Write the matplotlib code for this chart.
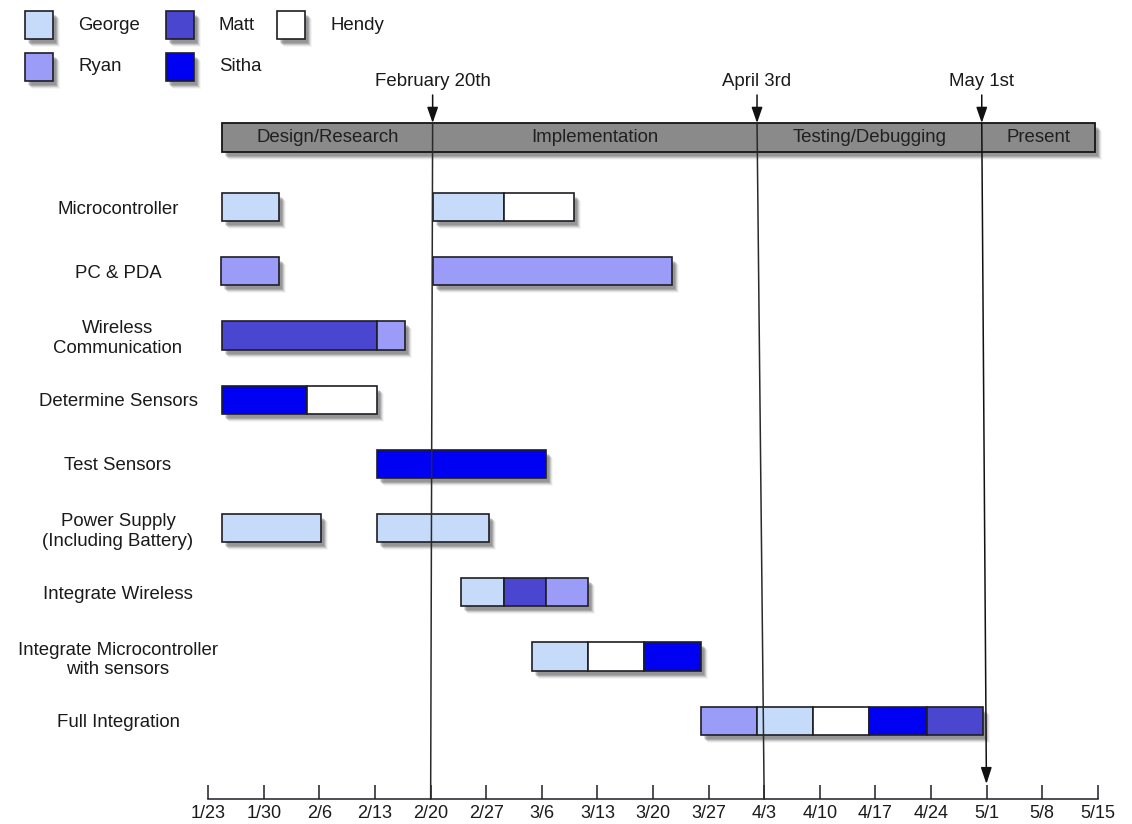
import matplotlib
matplotlib.use("Agg")
import matplotlib.pyplot as plt
from matplotlib.patches import Rectangle
from matplotlib.transforms import Affine2D, blended_transform_factory, offset_copy

plt.rcParams['font.family'] = ['Liberation Sans', 'DejaVu Sans']
plt.rcParams['font.size'] = 13

# ---------------- schedule data (days counted from Jan 23) ----------------
tasks = ["Microcontroller", "PC & PDA", "Wireless\nCommunication", "Determine Sensors",
         "Test Sensors", "Power Supply\n(Including Battery)", "Integrate Wireless",
         "Integrate Microcontroller\nwith sensors", "Full Integration"]

people = ["George", "Ryan", "Matt", "Sitha", "Hendy"]
people_colors = ["#C6DBFA", "#9B9CF8", "#4A46D0", "#0000F2", "#FFFFFF"]

seg_task = [0, 0, 0,
            1, 1,
            2, 2,
            3, 3,
            4,
            5, 5,
            6, 6, 6,
            7, 7, 7,
            8, 8, 8, 8, 8]
seg_start = [1.75, 28.3, 37.2,
             1.55, 28.3,
             1.75, 21.2,
             1.75, 12.45,
             21.2,
             1.75, 21.2,
             31.85, 37.2, 42.55,
             40.7, 47.85, 54.9,
             62.0, 69.1, 76.15, 83.2, 90.45]
seg_end = [8.85, 37.2, 46.1,
           8.85, 58.45,
           21.2, 24.75,
           12.45, 21.2,
           42.55,
           14.15, 35.4,
           37.2, 42.55, 47.85,
           47.85, 54.9, 62.0,
           69.1, 76.15, 83.2, 90.45, 97.5]
seg_person = ["George", "George", "Hendy",
              "Ryan", "Ryan",
              "Matt", "Ryan",
              "Sitha", "Hendy",
              "Sitha",
              "George", "George",
              "George", "Matt", "Ryan",
              "George", "Hendy", "Sitha",
              "Ryan", "George", "Hendy", "Sitha", "Matt"]

phases = ["Design/Research", "Implementation", "Testing/Debugging", "Present"]
phase_start, phase_end = 1.75, 111.6

milestones = ["February 20th", "April 3rd", "May 1st"]
milestone_days = [28, 70, 98]            # where each marker meets the time axis
milestone_header_days = [28.25, 69.1, 97.4]  # where each marker meets the phase bar

tick_days = list(range(0, 113, 7))
tick_labels = ["1/23", "1/30", "2/6", "2/13", "2/20", "2/27", "3/6", "3/13", "3/20",
               "3/27", "4/3", "4/10", "4/17", "4/24", "5/1", "5/8", "5/15"]

# ---------------- layout ----------------
W, H = 1132, 824
fig = plt.figure(figsize=(W / 100, H / 100), dpi=100)
fig.patch.set_facecolor("white")

AX_L, AX_R, AX_B = 208.3, 1097.7, 799      # pixel geometry of the time axis
ROW0, ROW_STEP = 207.0, 64.22              # pixel centre of first row, row spacing
BAR_H = 28.3 / ROW_STEP
FS = 13.4                                  # label font size

ax = fig.add_axes([AX_L / W, (H - AX_B) / H, (AX_R - AX_L) / W, AX_B / H])
ax.set_xlim(0, 112)
ax.set_ylim((AX_B - ROW0) / ROW_STEP, -ROW0 / ROW_STEP)
ax.set_facecolor("none")

# figure pixel coordinates (origin top-left) and a blend: x in days, y in pixels
px = Affine2D().scale(1 / W, -1 / H).translate(0, 1) + fig.transFigure
bt = blended_transform_factory(ax.transData, px)

INK = "#1E1E24"
LINE = "#2A2A2A"
TEXT = "#1A1A1A"
color_of = dict(zip(people, people_colors))

SHADOW_LAYERS = [(3, -4, 0.18), (4, -5, 0.24), (5, -6, 0.18), (6, -7, 0.10), (7, -8, 0.05)]


def shadow(xy, w, h, transform, zorder=1):
    for dx, dy, a in SHADOW_LAYERS:
        tr = offset_copy(transform, fig=fig, x=dx, y=dy, units="dots")
        ax.add_patch(Rectangle(xy, w, h, transform=tr, facecolor="#4A4A4A",
                               edgecolor="none", alpha=a, zorder=zorder, clip_on=False))


# ---------------- task bars ----------------
for t in range(len(tasks)):
    idx = [k for k in range(len(seg_task)) if seg_task[k] == t]
    idx.sort(key=lambda k: seg_start[k])
    # contiguous runs share one shadow
    runs = []
    for k in idx:
        if runs and abs(runs[-1][1] - seg_start[k]) < 1e-6:
            runs[-1][1] = seg_end[k]
        else:
            runs.append([seg_start[k], seg_end[k]])
    for s, e in runs:
        shadow((s, t - BAR_H / 2), e - s, BAR_H, ax.transData)
    for k in idx:
        ax.add_patch(Rectangle((seg_start[k], t - BAR_H / 2), seg_end[k] - seg_start[k], BAR_H,
                               facecolor=color_of[seg_person[k]], edgecolor=INK,
                               linewidth=1.2, zorder=3, clip_on=False))

# ---------------- phase bar ----------------
PH_TOP, PH_H = 123, 29
shadow((phase_start, PH_TOP), phase_end - phase_start, PH_H, bt)
ax.add_patch(Rectangle((phase_start, PH_TOP), phase_end - phase_start, PH_H, transform=bt,
                       facecolor="#8A8A8A", edgecolor="#151515", linewidth=1.3,
                       zorder=3, clip_on=False))
edges = [phase_start] + milestone_header_days + [phase_end]
for name, a, b in zip(phases, edges[:-1], edges[1:]):
    ax.text((a + b) / 2, PH_TOP + PH_H / 2, name, transform=bt, ha="center", va="center",
            color="#202020", fontsize=FS, zorder=6, clip_on=False)

# ---------------- milestone markers ----------------
LABEL_Y, ARROW_Y0 = 81.5, 95
bottom_arrow = [False, False, True]
for name, day, top, arrow_down in zip(milestones, milestone_days, milestone_header_days, bottom_arrow):
    ax.text(top, LABEL_Y, name, transform=bt, ha="center", va="center",
            color=TEXT, fontsize=FS, clip_on=False)
    ax.annotate("", xy=(top, PH_TOP), xycoords=bt, xytext=(top, ARROW_Y0), textcoords=bt,
                arrowprops=dict(arrowstyle="-|>,head_length=0.95,head_width=0.33",
                                mutation_scale=10, color="#111111", lw=1.1,
                                shrinkA=0, shrinkB=0), zorder=7, annotation_clip=False)
    if arrow_down:
        end_y = 784
        end_x = top + (day - top) * (end_y - PH_TOP) / (AX_B - PH_TOP)
        ax.annotate("", xy=(end_x, end_y), xycoords=bt, xytext=(top, PH_TOP), textcoords=bt,
                    arrowprops=dict(arrowstyle="-|>,head_length=1.0,head_width=0.33",
                                    mutation_scale=10, color="#111111", lw=1.1,
                                    shrinkA=0, shrinkB=0), zorder=7, annotation_clip=False)
    else:
        ax.plot([top, day], [PH_TOP, AX_B], transform=bt, color=LINE, lw=1.1,
                zorder=7, clip_on=False)

# ---------------- axes styling ----------------
for side in ("left", "right", "top"):
    ax.spines[side].set_visible(False)
ax.spines["bottom"].set_linewidth(1.1)
ax.spines["bottom"].set_color(INK)
ax.set_xticks(tick_days, tick_labels)
ax.tick_params(axis="x", direction="in", length=10, width=1.1, color=INK,
               pad=4, labelsize=13, labelcolor=TEXT)
ax.set_yticks(range(len(tasks)), tasks)
ax.tick_params(axis="y", length=0, pad=(AX_L - 118) * 0.72, labelsize=FS, labelcolor=TEXT)
for lab in ax.get_yticklabels():
    lab.set_ha("center")
    lab.set_multialignment("center")

# ---------------- legend ----------------
LEG_COLS = [25, 165.7, 277]
LEG_ROWS = [11, 52.7]
BOX = 28
for n, (name, col) in enumerate(zip(people, people_colors)):
    x0 = LEG_COLS[n // 2]
    y0 = LEG_ROWS[n % 2]
    for dx, dy, a in SHADOW_LAYERS:
        tr = offset_copy(px, fig=fig, x=dx, y=dy, units="dots")
        fig.patches.append(Rectangle((x0, y0), BOX, BOX, transform=tr, facecolor="#4A4A4A",
                                     edgecolor="none", alpha=a, zorder=1))
    fig.patches.append(Rectangle((x0, y0), BOX, BOX, transform=px, facecolor=col,
                                 edgecolor=INK, linewidth=1.2, zorder=2))
    fig.text(x0 + BOX + 25, y0 + BOX / 2, name, transform=px, ha="left", va="center",
             fontsize=FS, color=TEXT)

fig.savefig("out.png", dpi=100, facecolor="white")
